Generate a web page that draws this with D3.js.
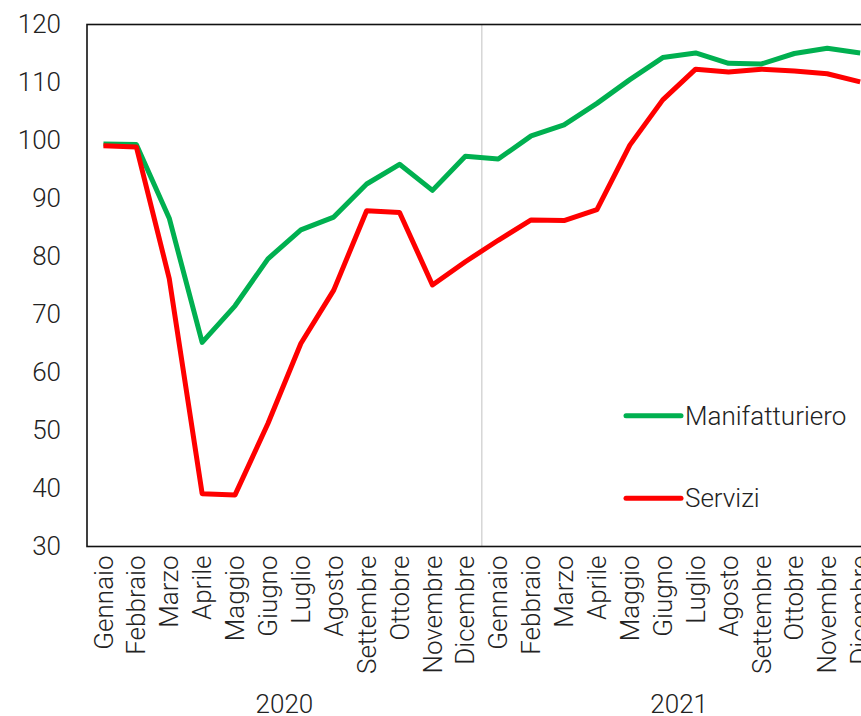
<!DOCTYPE html>
<html>
<head>
<meta charset="utf-8">
<script src="https://cdn.jsdelivr.net/npm/d3@7"></script>
<style>
  body { margin: 0; overflow: hidden; background: #fff; }
  svg { display: block; }
  text { font-family: Roboto, "Noto Sans", sans-serif; font-weight: 300; fill: #222; }
</style>
</head>
<body>
<script>
var svgW = 861;
var svgH = 716;

var months = ["Gennaio", "Febbraio", "Marzo", "Aprile", "Maggio", "Giugno", "Luglio",
  "Agosto", "Settembre", "Ottobre", "Novembre", "Dicembre"];
var years = ["2020", "2021"];

var data_manif = [99.4, 99.3, 86.6, 65.2, 71.5, 79.6, 84.6, 86.8, 92.5, 95.9, 91.4, 97.3,
  96.8, 100.8, 102.7, 106.4, 110.5, 114.3, 115.1, 113.3, 113.2, 115.0, 115.9, 115.1];
var data_serv = [99.1, 98.9, 76.2, 39.1, 38.9, 51.2, 65.0, 74.2, 87.9, 87.6, 75.1, 79.1,
  82.8, 86.3, 86.2, 88.1, 99.2, 107.0, 112.3, 111.8, 112.3, 112.0, 111.5, 110.1];
var yTicks = [30, 40, 50, 60, 70, 80, 90, 100, 110, 120];

var seriesNames = ["Manifatturiero", "Servizi"];
var seriesColors = ["#00b050", "#ff0000"];

var fontSize = "26px";
var plotLeft = 87, plotTop = 24.5, plotBottom = 546.5;
var step = 32.9;

// una categoria per mese, due anni di fila
var cats = [];
years.forEach(function(yr) {
  months.forEach(function(m) { cats.push(yr + "-" + m); });
});

var x = d3.scaleBand()
  .domain(cats)
  .range([plotLeft, plotLeft + cats.length * step]);

var y = d3.scaleLinear()
  .domain([30, 120])
  .range([plotBottom, plotTop]);

var svg = d3.select("body")
  .append("svg")
  .attr("width", svgW)
  .attr("height", svgH);

// separatore fra i due anni
svg.append("line")
  .attr("x1", x(cats[12])).attr("x2", x(cats[12]))
  .attr("y1", plotTop).attr("y2", plotBottom)
  .attr("stroke", "#d6d6d6")
  .attr("stroke-width", 1.5);

// cornice del grafico
svg.append("rect")
  .attr("x", plotLeft)
  .attr("y", plotTop)
  .attr("width", cats.length * step)
  .attr("height", plotBottom - plotTop)
  .attr("fill", "none")
  .attr("stroke", "#111")
  .attr("stroke-width", 1.6);

// asse y
var yAxis = svg.append("g")
  .attr("transform", "translate(" + plotLeft + ",0)")
  .call(d3.axisLeft(y).tickValues(yTicks).tickSize(0).tickPadding(26));
yAxis.select(".domain").remove();
yAxis.selectAll("text")
  .attr("font-size", fontSize)
  .style("font-family", "Roboto, sans-serif")
  .style("font-weight", 300)
  .attr("fill", "#222");

// asse x con i mesi ruotati
var xAxis = svg.append("g")
  .attr("transform", "translate(0," + plotBottom + ")")
  .call(d3.axisBottom(x).tickSize(0).tickFormat(function(d) { return d.split("-")[1]; }));
xAxis.select(".domain").remove();
xAxis.selectAll("text")
  .attr("font-size", fontSize)
  .style("font-family", "Roboto, sans-serif")
  .style("font-weight", 300)
  .attr("fill", "#222")
  .attr("text-anchor", "end")
  .attr("transform", "rotate(-90)")
  .attr("x", -9)
  .attr("y", 0)
  .attr("dy", "0.35em");

// etichette degli anni
svg.selectAll(".year")
  .data(years)
  .enter()
  .append("text")
  .attr("class", "year")
  .text(function(d) { return d; })
  .attr("text-anchor", "middle")
  .attr("x", function(d, i) {
    return (x(cats[i * 12]) + x(cats[i * 12 + 11]) + x.bandwidth()) / 2;
  })
  .attr("y", 713)
  .attr("font-size", fontSize);

var line = d3.line()
  .x(function(d, i) { return x(cats[i]) + x.bandwidth() / 2; })
  .y(function(d) { return y(d); });

[data_manif, data_serv].forEach(function(s, k) {
  svg.append("path")
    .datum(s)
    .attr("d", line)
    .attr("fill", "none")
    .attr("stroke", seriesColors[k])
    .attr("stroke-width", 5)
    .attr("stroke-linejoin", "round");
});

// legenda
var legend = svg.selectAll(".leg")
  .data(seriesNames)
  .enter()
  .append("g")
  .attr("class", "leg")
  .attr("transform", function(d, i) { return "translate(626," + (415.7 + i * 82.6) + ")"; });

legend.append("line")
  .attr("x1", 0).attr("x2", 55)
  .attr("stroke", function(d, i) { return seriesColors[i]; })
  .attr("stroke-width", 5)
  .attr("stroke-linecap", "round");

legend.append("text")
  .text(function(d) { return d; })
  .attr("x", 59)
  .attr("dy", "0.35em")
  .attr("font-size", fontSize);
</script>
</body>
</html>
